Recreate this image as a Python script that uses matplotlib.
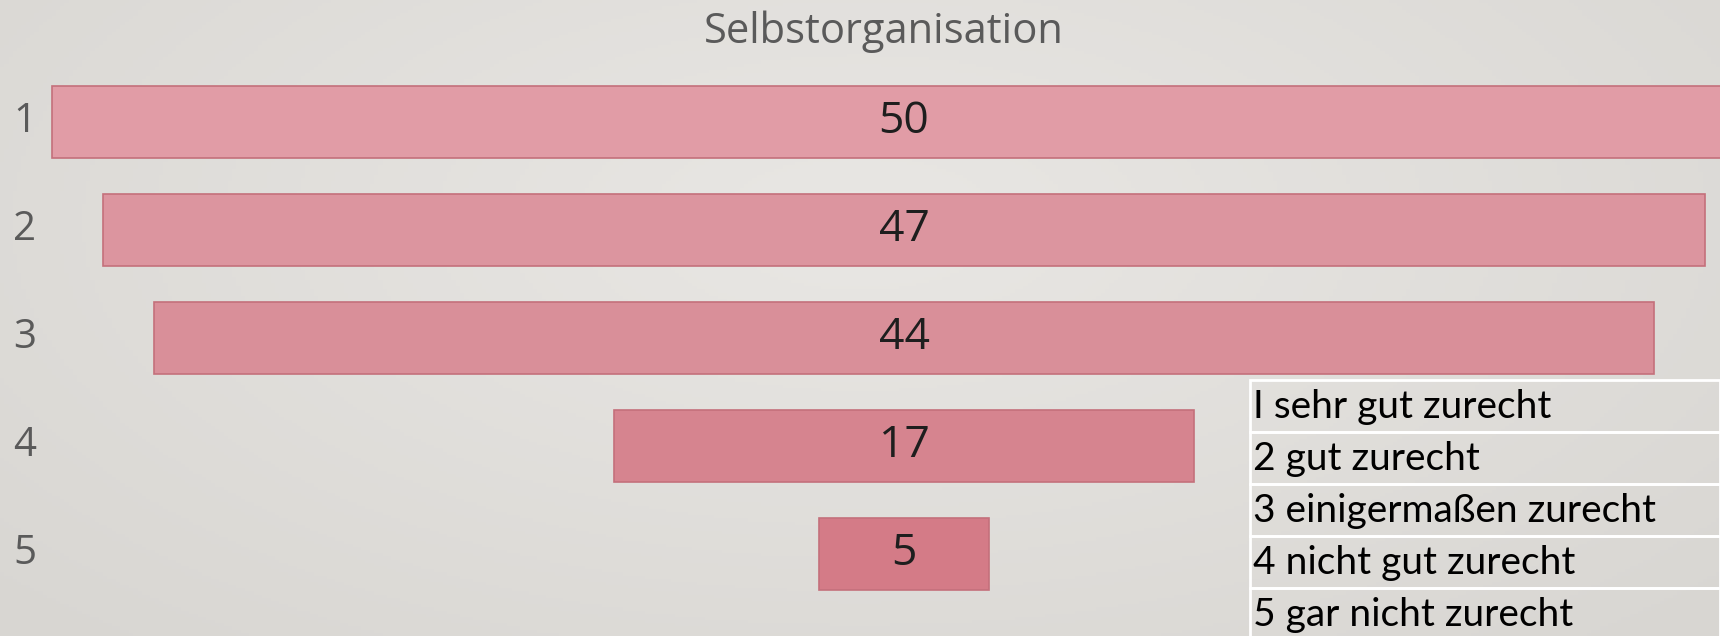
import numpy as np
import matplotlib
matplotlib.use("Agg")
import matplotlib.pyplot as plt
from matplotlib.patches import Rectangle
import matplotlib.transforms as mtransforms

# ── Data ────────────────────────────────────────────────────────────────────
categories = ["1", "2", "3", "4", "5"]
values = [50, 47, 44, 17, 5]
legend_labels = [
    "I sehr gut zurecht",
    "2 gut zurecht",
    "3 einigermaßen zurecht",
    "4 nicht gut zurecht",
    "5 gar nicht zurecht",
]
title = "Selbstorganisation"

# ── Style ───────────────────────────────────────────────────────────────────
W, H = 1720, 636
BAR_COLOURS = ["#e19ca6", "#dc959f", "#d98f99", "#d6848f", "#d47b87"]
EDGE_COLOUR = "#c4707b"
GREY_TEXT = "#5a5a5a"
NUM_FONT = ["Open Sans", "DejaVu Sans"]
LEGEND_FONT = ["Lato", "DejaVu Sans"]

fig = plt.figure(figsize=(W / 100, H / 100), dpi=100)

# background radial gradient
bg = fig.add_axes([0, 0, 1, 1], zorder=0)
yy, xx = np.mgrid[0:1:200j, 0:1:400j]
r = np.sqrt(((xx - 0.5) / 0.7) ** 2 + ((yy - 0.35) / 0.9) ** 2)
r = np.clip(r, 0, 1)
c0 = np.array([233, 231, 228]) / 255
c1 = np.array([216, 214, 210]) / 255
img = c0[None, None, :] * (1 - r[..., None]) + c1[None, None, :] * r[..., None]
bg.imshow(img, aspect="auto", extent=[0, 1, 0, 1])
bg.set_axis_off()

# main axes, x centred on the funnel axis
ax = fig.add_axes([0, 0, 1, 1], zorder=1)
ax.patch.set_alpha(0)
px = 34.1          # pixels per unit
cx = 904           # funnel centre in pixels
y0, dy = 122, 108  # first row centre and row spacing (pixels from top)
ax.set_xlim(-cx / px, (W - cx) / px)
ax.set_ylim((H - y0) / dy, -y0 / dy)
ax.set_axis_off()

ypos = np.arange(len(values))
vals = np.array(values, dtype=float)
ax.barh(ypos, vals, left=-vals / 2, height=0.665,
        color=BAR_COLOURS, edgecolor=EDGE_COLOUR, linewidth=1.2, zorder=2)

for y, v in zip(ypos, values):
    ax.text(0, y, str(v), ha="center", va="center", fontsize=32,
            color="#1e1e1e", family=NUM_FONT, zorder=3)

lab_tr = mtransforms.blended_transform_factory(fig.transFigure, ax.transData)
for y, c in zip(ypos, categories):
    ax.text(25 / W, y, c, transform=lab_tr, ha="center", va="center",
            fontsize=29, color=GREY_TEXT, family=NUM_FONT)

fig.text(884 / W, 1 - 32 / H, title, ha="center", va="center",
         fontsize=30, color=GREY_TEXT, family=NUM_FONT)

# legend table
tx0, ty0, rh = 1250, 380, 52
for i, lab in enumerate(legend_labels):
    top = ty0 + rh * i
    fig.patches.append(Rectangle((tx0 / W, 1 - (top + rh) / H), (W - tx0) / W, rh / H,
                                 transform=fig.transFigure, facecolor="none",
                                 edgecolor="white", linewidth=2, zorder=4))
    fig.text((tx0 + 3) / W, 1 - (top + rh / 2 + 1) / H, lab, ha="left", va="center",
             fontsize=28, color="black", family=LEGEND_FONT, zorder=5)

fig.savefig("out.png", dpi=100)
